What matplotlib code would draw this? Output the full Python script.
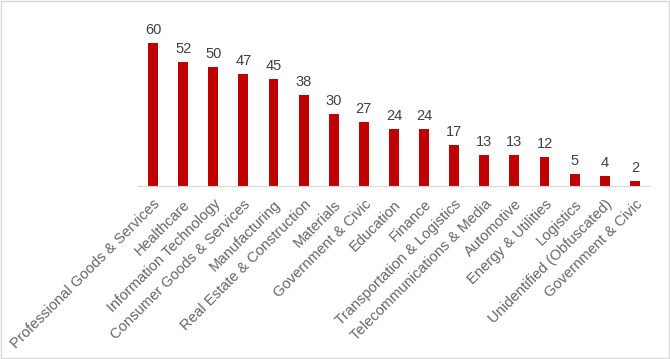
import matplotlib
matplotlib.use("Agg")
import matplotlib.pyplot as plt

categories = ["Professional Goods & Services", "Healthcare", "Information Technology",
              "Consumer Goods & Services", "Manufacturing", "Real Estate & Construction",
              "Materials", "Government & Civic", "Education", "Finance",
              "Transportation & Logistics", "Telecommunications & Media", "Automotive",
              "Energy & Utilities", "Logistics", "Unidentified (Obfuscated)", "Government & Civic"]
counts = [60, 52, 50, 47, 45, 38, 30, 27, 24, 24, 17, 13, 13, 12, 5, 4, 2]

plt.rcParams["font.family"] = ["Liberation Sans", "DejaVu Sans"]
fig = plt.figure(figsize=(6.7, 3.59), dpi=100)
ax = fig.add_axes([0.206, 0.482, 0.764, 0.465])

x = range(len(categories))
bars = ax.bar(x, counts, width=0.33, color="#C00000")
for b, v in zip(bars, counts):
    ax.text(b.get_x() + b.get_width() / 2, v + 2.5, str(v), ha="center", va="bottom",
            fontsize=10.5, color="#404040")

ax.set_xlim(-0.5, len(categories) - 0.5)
ax.set_ylim(0, 70)
ax.set_yticks([])
ax.set_xticks(list(x))
ax.set_xticklabels(categories, rotation=45, ha="right", rotation_mode="anchor",
                   fontsize=10.6, color="#666666")
ax.tick_params(axis="x", length=0, pad=8)
for s in ["top", "right", "left"]:
    ax.spines[s].set_visible(False)
ax.spines["bottom"].set_color("#d9d9d9")

fig.patches.append(plt.Rectangle((0.002, 0.003), 0.996, 0.994, transform=fig.transFigure,
                                 fill=False, edgecolor="#d9d9d9", linewidth=1))
fig.savefig("out.png", dpi=100)
